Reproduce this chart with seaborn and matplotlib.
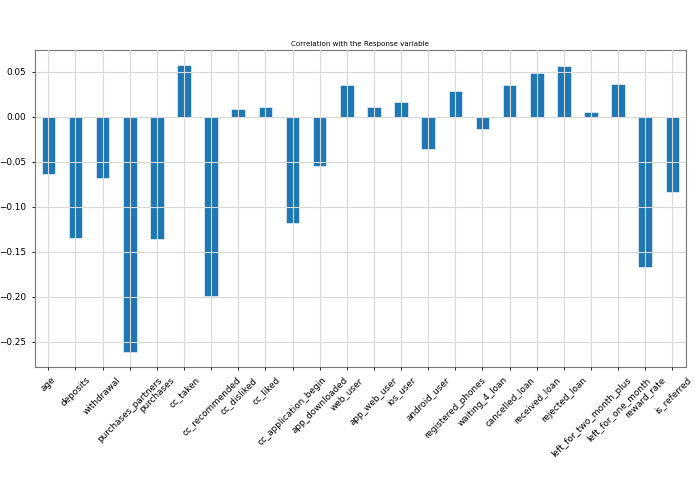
# Correlation bar chart
import seaborn as sns
import matplotlib.pyplot as plt

features = ['age', 'deposits', 'withdrawal', 'purchases_partners', 'purchases',
            'cc_taken', 'cc_recommended', 'cc_disliked', 'cc_liked',
            'cc_application_begin', 'app_downloaded', 'web_user', 'app_web_user',
            'ios_user', 'android_user', 'registered_phones', 'waiting_4_loan',
            'cancelled_loan', 'received_loan', 'rejected_loan',
            'left_for_two_month_plus', 'left_for_one_month', 'reward_rate',
            'is_referred']
corr = [-0.063, -0.135, -0.068, -0.261, -0.136, 0.058, -0.199, 0.009, 0.011,
        -0.118, -0.055, 0.035, 0.011, 0.017, -0.036, 0.029, -0.013, 0.035,
        0.049, 0.056, 0.005, 0.036, -0.167, -0.083]

fig = plt.figure(figsize=(6.95, 4.94), dpi=100)
ax = fig.add_axes([0.05, 0.257, 0.937, 0.642])
sns.barplot(x=features, y=corr, color='#1f77b4', saturation=1, width=0.5,
            edgecolor='white', linewidth=0.4, ax=ax)
ax.set_xlim(-0.5, len(features) - 0.5)
ax.set_ylim(-0.278, 0.0744)
ax.grid(True, color='#d8d8d8', linewidth=0.8)
ax.set_axisbelow(False)
ax.tick_params(labelsize=6.4, length=2.5, width=0.6)
plt.setp(ax.get_xticklabels(), rotation=45)
for s in ax.spines.values():
    s.set_color('#777777')
    s.set_linewidth(0.8)
ax.set_title('Correlation with the Response variable', fontsize=5.1, pad=3)
fig.savefig('out.png', dpi=100)
